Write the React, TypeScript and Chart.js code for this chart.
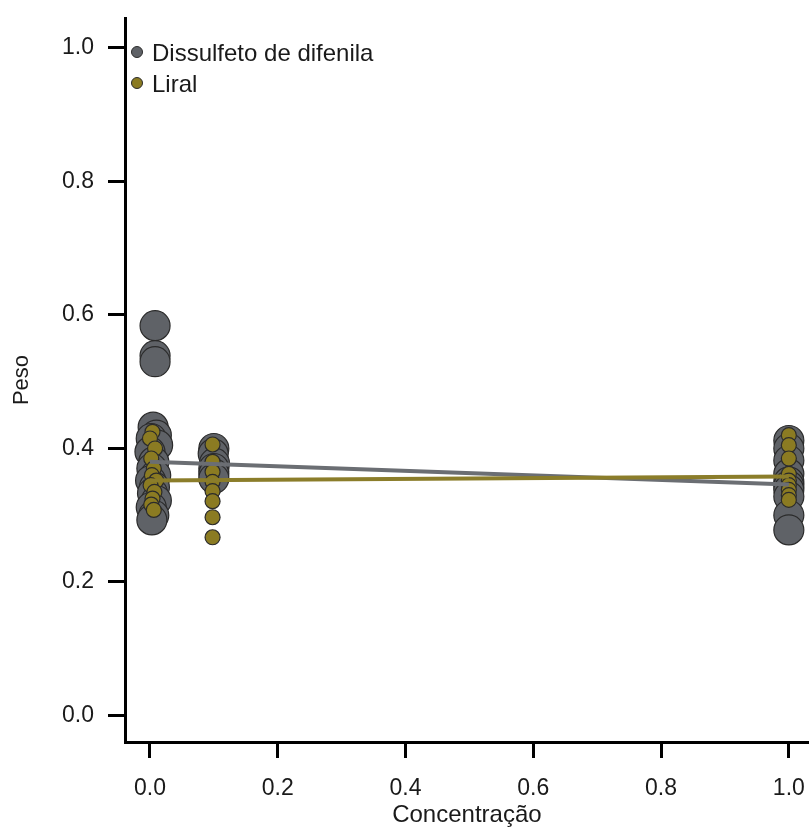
import React, { useEffect, useRef } from "react";
import { Chart, registerables } from "chart.js";

Chart.register(...registerables);

// Dissulfeto de difenila (grey)
const greyX = [
  0.008, 0.008, 0.008, 0.005, 0.010, 0.002, 0.012, 0.000, 0.006, 0.003, 0.009, 0.001, 0.007, 0.004, 0.010, 0.002, 0.006, 0.003,
  0.100, 0.099, 0.101, 0.100, 0.100, 0.100,
  1.000, 1.000, 1.000, 1.000, 1.000, 1.000, 1.000, 1.000, 1.000, 1.000,
];
const greyY = [
  0.584, 0.539, 0.530, 0.432, 0.420, 0.415, 0.405, 0.395, 0.380, 0.370, 0.360, 0.352, 0.342, 0.333, 0.322, 0.312, 0.300, 0.293,
  0.400, 0.392, 0.378, 0.370, 0.362, 0.355,
  0.412, 0.400, 0.382, 0.362, 0.350, 0.344, 0.338, 0.328, 0.300, 0.278,
];

// Liral (olive)
const oliveX = [
  0.004, 0.000, 0.008, 0.002, 0.006, 0.003, 0.010, 0.001, 0.007, 0.004, 0.002, 0.006,
  0.098, 0.098, 0.098, 0.098, 0.098, 0.098, 0.098, 0.098,
  1.000, 1.000, 1.000, 1.000, 1.000, 1.000, 1.000, 1.000, 1.000,
];
const oliveY = [
  0.425, 0.415, 0.400, 0.385, 0.370, 0.360, 0.352, 0.345, 0.335, 0.325, 0.316, 0.308,
  0.406, 0.380, 0.365, 0.350, 0.336, 0.321, 0.297, 0.267,
  0.420, 0.405, 0.385, 0.362, 0.352, 0.345, 0.338, 0.330, 0.323,
];

// Linear fits
const fitX = [0, 1];
const greyFitY = [0.380, 0.346];
const oliveFitY = [0.352, 0.358];

const seriesNames = ["Dissulfeto de difenila", "Liral"];
const tickValues = [0, 0.2, 0.4, 0.6, 0.8, 1.0];

const GREY = "#5f6267";
const OLIVE = "#8b7b22";
const GREY_LINE = "#6b6e73";
const OLIVE_LINE = "#8b7d2a";
const FONT = "'Liberation Sans', Arial, sans-serif";

const toPts = (xs: number[], ys: number[]) => xs.map((x, i) => ({ x, y: ys[i] }));

const legendPlugin = {
  id: "insideLegend",
  afterDatasetsDraw(chart: any) {
    const ctx = chart.ctx;
    const items = [
      { label: seriesNames[0], color: GREY, y: 52 },
      { label: seriesNames[1], color: OLIVE, y: 83 },
    ];
    ctx.save();
    items.forEach((it) => {
      ctx.beginPath();
      ctx.arc(137, it.y, 5.5, 0, Math.PI * 2);
      ctx.fillStyle = it.color;
      ctx.fill();
      ctx.lineWidth = 1;
      ctx.strokeStyle = "#2b2b2b";
      ctx.stroke();
      ctx.fillStyle = "#1a1a1a";
      ctx.font = `24px ${FONT}`;
      ctx.textBaseline = "middle";
      ctx.textAlign = "left";
      ctx.fillText(it.label, 152, it.y + 2);
    });
    ctx.restore();
  },
};

const CANVAS_W = 825;

export default function App() {
  const ref = useRef<HTMLCanvasElement | null>(null);
  useEffect(() => {
    if (!ref.current) return;
    const chart = new Chart(ref.current, {
      type: "scatter",
      data: {
        datasets: [
          {
            label: seriesNames[0],
            data: toPts(greyX, greyY),
            backgroundColor: GREY,
            borderColor: "#2b2b2b",
            borderWidth: 1.2,
            pointRadius: 15,
            order: 4,
          },
          {
            label: seriesNames[1],
            data: toPts(oliveX, oliveY),
            backgroundColor: OLIVE,
            borderColor: "#2b2b2b",
            borderWidth: 1.2,
            pointRadius: 7.5,
            order: 3,
          },
          {
            label: "fit1",
            data: toPts(fitX, greyFitY),
            showLine: true,
            borderColor: GREY_LINE,
            borderWidth: 4,
            pointRadius: 0,
            order: 2,
          },
          {
            label: "fit2",
            data: toPts(fitX, oliveFitY),
            showLine: true,
            borderColor: OLIVE_LINE,
            borderWidth: 4,
            pointRadius: 0,
            order: 1,
          },
        ],
      },
      options: {
        animation: false,
        responsive: false,
        maintainAspectRatio: false,
        devicePixelRatio: 1,
        layout: { padding: { top: 18, right: 0, left: 0, bottom: 0 } },
        plugins: { legend: { display: false }, tooltip: { enabled: false } },
        scales: {
          x: {
            type: "linear",
            min: -0.0390625,
            max: 1.03125,
            afterBuildTicks: (s: any) => {
              s.ticks = tickValues.map((v) => ({ value: v }));
            },
            afterFit: (s: any) => {
              s.height = 88;
              s.paddingLeft = 0;
              s.paddingRight = 0;
            },
            grid: {
              drawOnChartArea: false,
              drawTicks: true,
              tickLength: 16,
              tickWidth: 3,
              tickColor: "#000",
            },
            border: { display: true, width: 3, color: "#000" },
            ticks: {
              padding: 17,
              color: "#1a1a1a",
              font: { family: FONT, size: 23 },
              callback: (v: any) => Number(v).toFixed(1),
              maxRotation: 0,
            },
            title: {
              display: true,
              text: "Concentração",
              color: "#1a1a1a",
              font: { family: FONT, size: 24 },
              padding: { top: 0, bottom: 0 },
            },
          },
          y: {
            type: "linear",
            min: -0.0397,
            max: 1.0449,
            afterBuildTicks: (s: any) => {
              s.ticks = tickValues.map((v) => ({ value: v }));
            },
            afterFit: (s: any) => {
              s.width = 125;
              s.paddingTop = 0;
              s.paddingBottom = 0;
            },
            grid: {
              drawOnChartArea: false,
              drawTicks: true,
              tickLength: 17,
              tickWidth: 3,
              tickColor: "#000",
            },
            border: { display: true, width: 3, color: "#000" },
            ticks: {
              padding: 14,
              color: "#1a1a1a",
              font: { family: FONT, size: 23 },
              callback: (v: any) => Number(v).toFixed(1),
            },
            title: {
              display: true,
              text: "Peso",
              color: "#1a1a1a",
              font: { family: FONT, size: 22 },
              padding: { top: 9, bottom: 0 },
            },
          },
        },
      },
      plugins: [legendPlugin],
    } as any);
    return () => chart.destroy();
  }, []);
  return (
    <div style={{ position: "absolute", left: 0, top: 0, width: 810, height: 830, background: "#fff", overflow: "hidden" }}>
      <canvas ref={ref} width={CANVAS_W} height={830} style={{ display: "block", width: CANVAS_W, height: 830 }} />
    </div>
  );
}
